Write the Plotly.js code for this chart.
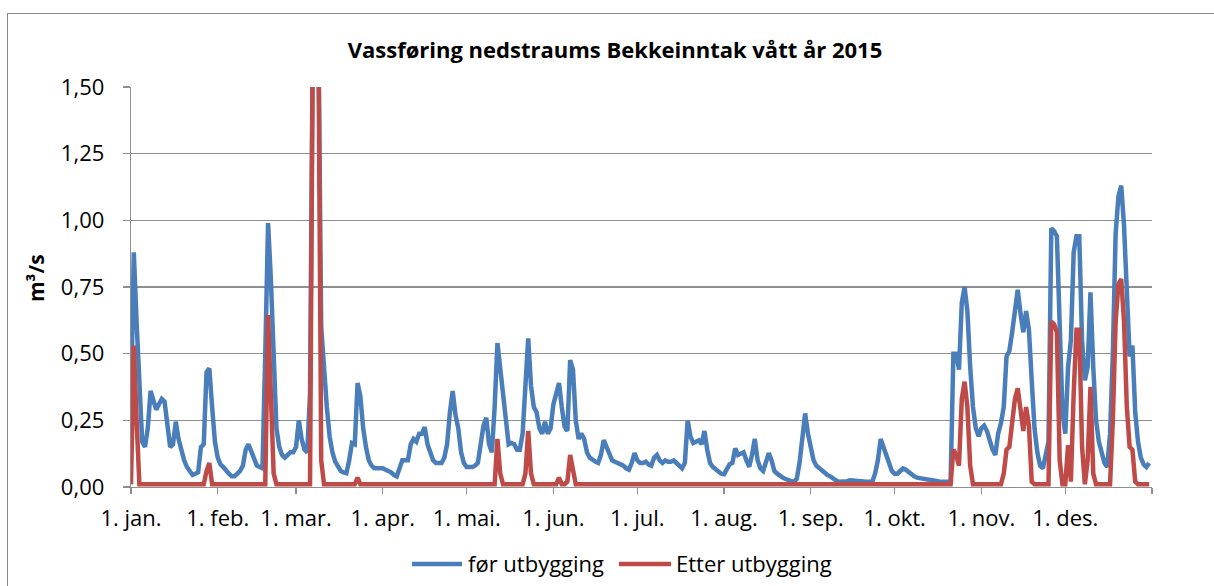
<!DOCTYPE html>
<html>
<head>
<meta charset="utf-8">
<script src="https://cdn.plot.ly/plotly-3.0.1.min.js"></script>
<style>
  html, body { margin: 0; padding: 0; background: #fff; overflow: hidden; }
  #frame { position: absolute; left: 7px; top: 13px; width: 1240px; height: 640px; border: 1px solid #8a8a8a; box-sizing: border-box; }
  #chart { position: absolute; left: 0; top: 0; width: 1214px; height: 586px; }
</style>
</head>
<body>
<div id="frame"></div>
<div id="chart"></div>
<script>
// Tick labels (month starts)
const monthLabels = ['1. jan.', '1. feb.', '1. mar.', '1. apr.', '1. mai.', '1. jun.', '1. jul.', '1. aug.', '1. sep.', '1. okt.', '1. nov.', '1. des.'];
const monthStarts = ['2015-01-01', '2015-02-01', '2015-03-01', '2015-04-01', '2015-05-01', '2015-06-01', '2015-07-01', '2015-08-01', '2015-09-01', '2015-10-01', '2015-11-01', '2015-12-01'];

// Series names
const seriesNames = ['før utbygging', 'Etter utbygging'];

// Daily discharge (m³/s) before development ("før utbygging"), per month
const forJan = [0.30,0.88,0.62,0.38,0.17,0.15,0.22,0.36,0.32,0.29,0.31,0.33,0.32,0.22,0.15,0.16,0.245,0.18,0.13,0.10,0.075,0.06,0.045,0.05,0.055,0.15,0.16,0.43,0.445,0.30,0.17];
const forFeb = [0.11,0.085,0.075,0.06,0.05,0.04,0.04,0.05,0.06,0.08,0.14,0.16,0.13,0.10,0.08,0.075,0.07,0.50,0.99,0.78,0.50,0.22,0.15,0.12,0.11,0.12,0.13,0.13];
const forMar = [0.15,0.25,0.18,0.14,0.13,0.35,1.70,2.00,1.70,0.60,0.42,0.30,0.19,0.13,0.095,0.075,0.06,0.055,0.052,0.10,0.165,0.16,0.39,0.34,0.22,0.15,0.10,0.08,0.07,0.07,0.07];
const forApr = [0.07,0.065,0.06,0.055,0.045,0.04,0.07,0.10,0.10,0.10,0.16,0.18,0.17,0.20,0.20,0.225,0.16,0.13,0.10,0.09,0.09,0.09,0.11,0.16,0.28,0.36,0.27,0.22,0.13,0.09];
const forMai = [0.075,0.075,0.075,0.08,0.09,0.16,0.23,0.26,0.16,0.13,0.30,0.54,0.44,0.33,0.22,0.16,0.165,0.16,0.14,0.14,0.20,0.40,0.557,0.38,0.30,0.28,0.22,0.20,0.245,0.20,0.22];
const forJun = [0.31,0.35,0.39,0.30,0.226,0.21,0.476,0.44,0.25,0.18,0.20,0.18,0.13,0.11,0.10,0.095,0.09,0.12,0.176,0.15,0.12,0.10,0.095,0.09,0.085,0.08,0.07,0.065,0.09,0.127];
const forJul = [0.10,0.09,0.09,0.095,0.085,0.08,0.11,0.12,0.10,0.09,0.10,0.095,0.095,0.10,0.09,0.08,0.07,0.09,0.25,0.19,0.165,0.17,0.175,0.16,0.21,0.14,0.09,0.075,0.065,0.06,0.05];
const forAug = [0.048,0.07,0.085,0.09,0.145,0.12,0.125,0.13,0.10,0.076,0.12,0.18,0.10,0.07,0.06,0.10,0.127,0.10,0.06,0.05,0.04,0.035,0.03,0.025,0.022,0.02,0.03,0.09,0.20,0.276,0.20];
const forSep = [0.14,0.10,0.08,0.07,0.06,0.05,0.045,0.04,0.03,0.025,0.02,0.02,0.02,0.022,0.025,0.025,0.024,0.023,0.022,0.021,0.02,0.02,0.02,0.05,0.10,0.18,0.15,0.11,0.08,0.06];
const forOkt = [0.05,0.05,0.06,0.07,0.065,0.055,0.045,0.04,0.035,0.033,0.03,0.028,0.025,0.024,0.023,0.022,0.021,0.02,0.02,0.02,0.02,0.50,0.50,0.44,0.69,0.75,0.66,0.45,0.30,0.22,0.19];
const forNov = [0.22,0.23,0.21,0.17,0.14,0.12,0.20,0.24,0.30,0.49,0.51,0.58,0.67,0.74,0.65,0.58,0.66,0.59,0.40,0.22,0.13,0.08,0.07,0.12,0.17,0.97,0.96,0.94,0.55,0.28];
const forDes = [0.20,0.45,0.55,0.88,0.94,0.94,0.55,0.40,0.45,0.73,0.45,0.25,0.17,0.12,0.09,0.075,0.20,0.50,0.95,1.09,1.13,0.98,0.70,0.49,0.53,0.28,0.17,0.11,0.085,0.075,0.09];

// Daily discharge (m³/s) after development ("Etter utbygging"), per month
const etterJan = [0.01,0.53,0.25,0.01,0.01,0.01,0.01,0.01,0.01,0.01,0.01,0.01,0.01,0.01,0.01,0.01,0.01,0.01,0.01,0.01,0.01,0.01,0.01,0.01,0.01,0.01,0.01,0.06,0.09,0.01,0.01];
const etterFeb = [0.01,0.01,0.01,0.01,0.01,0.01,0.01,0.01,0.01,0.01,0.01,0.01,0.01,0.01,0.01,0.01,0.01,0.01,0.645,0.30,0.05,0.01,0.01,0.01,0.01,0.01,0.01,0.01];
const etterMar = [0.01,0.01,0.01,0.01,0.01,0.01,1.70,1.90,1.70,0.10,0.01,0.01,0.01,0.01,0.01,0.01,0.01,0.01,0.01,0.01,0.01,0.01,0.035,0.01,0.01,0.01,0.01,0.01,0.01,0.01,0.01];
const etterApr = [0.01,0.01,0.01,0.01,0.01,0.01,0.01,0.01,0.01,0.01,0.01,0.01,0.01,0.01,0.01,0.01,0.01,0.01,0.01,0.01,0.01,0.01,0.01,0.01,0.01,0.01,0.01,0.01,0.01,0.01];
const etterMai = [0.01,0.01,0.01,0.01,0.01,0.01,0.01,0.01,0.01,0.01,0.01,0.18,0.05,0.01,0.01,0.01,0.01,0.01,0.01,0.01,0.01,0.05,0.21,0.05,0.01,0.01,0.01,0.01,0.01,0.01,0.01];
const etterJun = [0.01,0.01,0.035,0.01,0.01,0.02,0.12,0.07,0.01,0.01,0.01,0.01,0.01,0.01,0.01,0.01,0.01,0.01,0.01,0.01,0.01,0.01,0.01,0.01,0.01,0.01,0.01,0.01,0.01,0.01];
const etterJul = [0.01,0.01,0.01,0.01,0.01,0.01,0.01,0.01,0.01,0.01,0.01,0.01,0.01,0.01,0.01,0.01,0.01,0.01,0.01,0.01,0.01,0.01,0.01,0.01,0.01,0.01,0.01,0.01,0.01,0.01,0.01];
const etterAug = [0.01,0.01,0.01,0.01,0.01,0.01,0.01,0.01,0.01,0.01,0.01,0.01,0.01,0.01,0.01,0.01,0.01,0.01,0.01,0.01,0.01,0.01,0.01,0.01,0.01,0.01,0.01,0.01,0.01,0.01,0.01];
const etterSep = [0.01,0.01,0.01,0.01,0.01,0.01,0.01,0.01,0.01,0.01,0.01,0.01,0.01,0.01,0.01,0.01,0.01,0.01,0.01,0.01,0.01,0.01,0.01,0.01,0.01,0.01,0.01,0.01,0.01,0.01];
const etterOkt = [0.01,0.01,0.01,0.01,0.01,0.01,0.01,0.01,0.01,0.01,0.01,0.01,0.01,0.01,0.01,0.01,0.01,0.01,0.01,0.01,0.01,0.14,0.12,0.08,0.33,0.395,0.30,0.08,0.01,0.01,0.01];
const etterNov = [0.01,0.01,0.01,0.01,0.01,0.01,0.01,0.01,0.05,0.14,0.15,0.25,0.33,0.37,0.30,0.21,0.30,0.23,0.02,0.01,0.01,0.01,0.01,0.01,0.01,0.62,0.61,0.58,0.10,0.01];
const etterDes = [0.01,0.157,0.02,0.35,0.59,0.59,0.15,0.01,0.10,0.376,0.05,0.01,0.01,0.01,0.01,0.01,0.01,0.25,0.62,0.76,0.78,0.62,0.30,0.15,0.14,0.02,0.01,0.01,0.01,0.01,0.01];

const forMonths = [forJan, forFeb, forMar, forApr, forMai, forJun, forJul, forAug, forSep, forOkt, forNov, forDes];
const etterMonths = [etterJan, etterFeb, etterMar, etterApr, etterMai, etterJun, etterJul, etterAug, etterSep, etterOkt, etterNov, etterDes];

// Build daily date strings from the month arrays
const dates = [];
forMonths.forEach((arr, m) => {
  arr.forEach((_, d) => {
    dates.push('2015-' + String(m + 1).padStart(2, '0') + '-' + String(d + 1).padStart(2, '0'));
  });
});
const forSeries = [].concat(...forMonths);
const etterSeries = [].concat(...etterMonths);

const FONT = 'Open Sans, Noto Sans, sans-serif';
const gridCol = '#8f8f8f';
const colors = ['#4a7ebb', '#be4b48'];

// plot-area pixel helpers for the custom legend (plot area: x 131..1152, y 87..487)
const px = v => (v - 131) / 1021;
const py = v => (487 - v) / 400;

const traces = [
  { x: dates, y: forSeries, type: 'scatter', mode: 'lines', name: seriesNames[0],
    line: { color: colors[0], width: 4.5 } },
  { x: dates, y: etterSeries, type: 'scatter', mode: 'lines', name: seriesNames[1],
    line: { color: colors[1], width: 4.5 } }
];

const legendY = 564;
const layout = {
  width: 1214, height: 586, autosize: false,
  margin: { l: 131, r: 62, t: 87, b: 99, autoexpand: false },
  paper_bgcolor: 'rgba(0,0,0,0)', plot_bgcolor: 'rgba(0,0,0,0)',
  separators: ',.',
  font: { family: FONT, color: '#000' },
  title: { text: '<b>Vassføring nedstraums Bekkeinntak vått år 2015</b>', x: 615 / 1214, xanchor: 'center',
           y: 1 - 50 / 586, yanchor: 'middle', yref: 'container', xref: 'container',
           font: { family: FONT, size: 22, color: '#000' } },
  xaxis: {
    type: 'date', range: ['2015-01-01', '2016-01-01'],
    tickmode: 'array', tickvals: monthStarts.concat(['2016-01-01']), ticktext: monthLabels.concat(['']),
    tickangle: 0, automargin: false,
    ticks: 'outside', ticklen: 6, tickwidth: 1.3, tickcolor: gridCol,
    showline: true, linecolor: gridCol, linewidth: 1.3,
    showgrid: false, zeroline: false,
    tickfont: { family: FONT, size: 22, color: '#000' },
    ticklabelstandoff: 5
  },
  yaxis: {
    range: [0, 1.5], tickmode: 'linear', tick0: 0, dtick: 0.25, tickformat: '.2f',
    automargin: false,
    ticks: 'outside', ticklen: 7, tickwidth: 1.3, tickcolor: gridCol,
    showline: true, linecolor: gridCol, linewidth: 1.3,
    showgrid: true, gridcolor: gridCol, gridwidth: 1.3, zeroline: false,
    tickfont: { family: FONT, size: 22, color: '#000' },
    ticklabelstandoff: 14
  },
  shapes: [
    { type: 'line', xref: 'paper', yref: 'paper', x0: px(412), x1: px(462), y0: py(legendY), y1: py(legendY),
      line: { color: colors[0], width: 4.5 } },
    { type: 'line', xref: 'paper', yref: 'paper', x0: px(619), x1: px(671), y0: py(legendY), y1: py(legendY),
      line: { color: colors[1], width: 4.5 } }
  ],
  annotations: [
    { text: '<b>m³/s</b>', xref: 'paper', yref: 'paper', x: px(36), y: py(278),
      xanchor: 'center', yanchor: 'middle', textangle: -90, showarrow: false,
      font: { family: FONT, size: 21, color: '#000' } },
    { text: seriesNames[0], xref: 'paper', yref: 'paper', x: px(466), y: py(legendY - 1),
      xanchor: 'left', yanchor: 'middle', showarrow: false,
      font: { family: FONT, size: 22, color: '#000' } },
    { text: seriesNames[1], xref: 'paper', yref: 'paper', x: px(674), y: py(legendY - 1),
      xanchor: 'left', yanchor: 'middle', showarrow: false,
      font: { family: FONT, size: 22, color: '#000' } }
  ],
  showlegend: false
};

Plotly.newPlot('chart', traces, layout, { displayModeBar: false, staticPlot: true });
</script>
</body>
</html>
